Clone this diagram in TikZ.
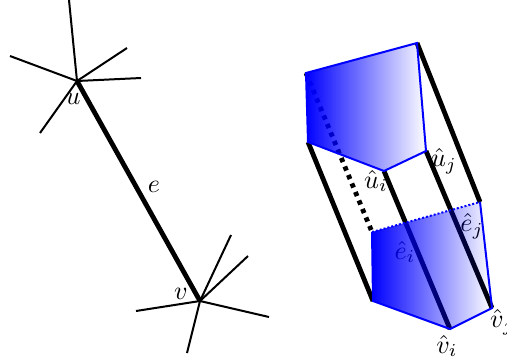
\documentclass[tikz,border=0pt]{standalone}
\usepackage{amsmath}
\usepackage{xcolor}
\usetikzlibrary{fadings}
\tikzfading[name=fadeside, left color=transparent!0, right color=transparent!100]
\tikzset{
	spoke/.style={line width=1pt},
	edgeline/.style={line width=2.4pt},
	dotline/.style={line width=2.4pt, dash pattern=on 2.2pt off 2.4pt},
	rim/.style={blue, line width=1pt},
	rimdot/.style={blue, line width=1pt, dash pattern=on 1pt off 1pt},
	facefill/.style={fill=blue, path fading=fadeside},
	tag/.style={scale=1.3},
}
\begin{document}
\begin{tikzpicture}[x=0.5pt, y=-0.5pt]
			\useasboundingbox (0, 0) rectangle (507, 360);
			% Left graph:
			\coordinate (u) at (77, 81);
			\coordinate (u1) at (69, 0);
			\coordinate (u2) at (10, 56);
			\coordinate (u3) at (127, 48);
			\coordinate (u4) at (141, 78);
			\coordinate (u5) at (40, 133);
			\coordinate (v) at (200, 301);
			\coordinate (v1) at (231, 235);
			\coordinate (v2) at (248, 256);
			\coordinate (v3) at (269, 317);
			\coordinate (v4) at (187, 353);
			\coordinate (v5) at (136, 311);
			\foreach \n in {1, ..., 5} {
				\draw[spoke] (u) -- (u\n);
				\draw[spoke] (v) -- (v\n);
			}
			\draw[edgeline] (u) -- (v);
			\node[tag] (Lu) at (73, 99){$u$};
			\node[tag] (Lv) at (181, 294){$v$};
			\node[tag] (Le) at (154, 187){$e$};
			% Top and bottom faces:
			\coordinate (a1) at (306, 73);
			\coordinate (a2) at (417, 43);
			\coordinate (a3) at (426, 151);
			\coordinate (a4) at (384, 171);
			\coordinate (a5) at (308, 142);
			\coordinate (b1) at (372, 232);
			\coordinate (b2) at (480, 202);
			\coordinate (b3) at (492, 308);
			\coordinate (b4) at (450, 329);
			\coordinate (b5) at (373, 301);
			% Prism edges:
			\draw[dotline] (a1) -- (b1);
			\draw[edgeline] (a2) -- (b2);
			\draw[edgeline] (a3) -- (b3);
			\draw[edgeline] (a4) -- (b4);
			\draw[edgeline] (a5) -- (b5);
			\node[tag] (Lei) at (405, 252){$\hat{e}_i$};
			\node[tag] (Lej) at (472, 226){$\hat{e}_j$};
			\fill[facefill] (a1) -- (a2) -- (a3) -- (a4) -- (a5) -- cycle;
			\fill[facefill] (b1) -- (b2) -- (b3) -- (b4) -- (b5) -- cycle;
			\draw[rim] (a1) -- (a2) -- (a3) -- (a4) -- (a5) -- cycle;
			\draw[rim] (b1) -- (b5) -- (b4) -- (b3) -- (b2);
			\draw[rimdot] (b1) -- (b2);
			\node[tag] (Lui) at (376, 181){$\hat{u}_i$};
			\node[tag] (Luj) at (444, 161){$\hat{u}_j$};
			\node[tag] (Lvi) at (447, 346){$\hat{v}_i$};
			\node[tag] (Lvj) at (502, 322){$\hat{v}_j$};
		\end{tikzpicture}
\end{document}
